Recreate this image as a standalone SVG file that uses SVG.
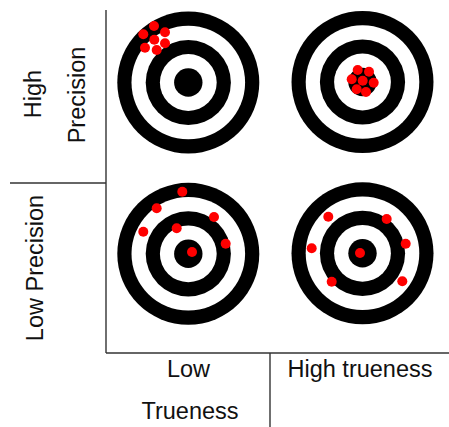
<svg xmlns="http://www.w3.org/2000/svg" xmlns:xlink="http://www.w3.org/1999/xlink" width="449" height="427" viewBox="0 0 449 427">
<style>
.lbl{font-family:"Liberation Sans",Arial,sans-serif;font-size:23.5px;fill:#111;text-anchor:middle}
.ax{stroke:#333;stroke-width:1.4;fill:none}
.k{fill:#000}
.w{fill:#fff}
.d{fill:#ff0000}
</style>
<defs>
<g id="tgt">
<circle class="k" r="71"/>
<circle class="w" r="56.8"/>
<circle class="k" r="42.6"/>
<circle class="w" r="28.4"/>
<circle class="k" r="14.2"/>
</g>
</defs>
<rect width="449" height="427" fill="#fff"/>
<g id="connectors">
<line class="ax" x1="106" y1="10" x2="106" y2="353"/>
<line class="ax" x1="10" y1="183" x2="106" y2="183"/>
<line class="ax" x1="106" y1="353" x2="449" y2="353"/>
<line class="ax" x1="270" y1="353" x2="270" y2="427"/>
</g>
<g id="target-low-trueness-high-precision">
<use xlink:href="#tgt" x="188.3" y="82.5"/>
<circle class="d" cx="154" cy="26" r="5"/>
<circle class="d" cx="143.3" cy="34.3" r="5"/>
<circle class="d" cx="165" cy="32.3" r="5"/>
<circle class="d" cx="154.3" cy="39.7" r="5"/>
<circle class="d" cx="165" cy="43.3" r="5"/>
<circle class="d" cx="145" cy="47.7" r="5"/>
<circle class="d" cx="156.7" cy="50" r="5"/>
</g>
<g id="target-high-trueness-high-precision">
<use xlink:href="#tgt" x="362.5" y="82"/>
<circle class="d" cx="357.7" cy="70" r="5"/>
<circle class="d" cx="369" cy="71.7" r="5"/>
<circle class="d" cx="351.7" cy="79.3" r="5"/>
<circle class="d" cx="362.7" cy="80.7" r="5"/>
<circle class="d" cx="373.7" cy="82.7" r="5"/>
<circle class="d" cx="356.7" cy="89.3" r="5"/>
<circle class="d" cx="366" cy="92" r="5"/>
</g>
<g id="target-low-trueness-low-precision">
<use xlink:href="#tgt" x="188.3" y="253.8"/>
<circle class="d" cx="182.3" cy="191.7" r="5"/>
<circle class="d" cx="156.7" cy="208.3" r="5"/>
<circle class="d" cx="214" cy="217" r="5"/>
<circle class="d" cx="143.3" cy="231.7" r="5"/>
<circle class="d" cx="176.7" cy="228.3" r="5"/>
<circle class="d" cx="225.7" cy="243.7" r="5"/>
<circle class="d" cx="192" cy="252" r="5"/>
</g>
<g id="target-high-trueness-low-precision">
<use xlink:href="#tgt" x="362.5" y="253.3"/>
<circle class="d" cx="328.3" cy="216.7" r="5"/>
<circle class="d" cx="386.7" cy="219" r="5"/>
<circle class="d" cx="311.7" cy="248.3" r="5"/>
<circle class="d" cx="405.7" cy="243.7" r="5"/>
<circle class="d" cx="360" cy="253" r="5"/>
<circle class="d" cx="331.7" cy="281.7" r="5"/>
<circle class="d" cx="402.3" cy="281.3" r="5"/>
</g>
<g id="label-high-precision">
<text class="lbl" x="41" y="94" transform="rotate(-90 41 94)">High</text>
<text class="lbl" x="85" y="95" transform="rotate(-90 85 95)">Precision</text>
</g>
<g id="label-low-precision">
<text class="lbl" x="43" y="268" transform="rotate(-90 43 268)">Low Precision</text>
</g>
<g id="label-low-trueness">
<text class="lbl" x="188.5" y="377">Low</text>
<text class="lbl" x="190" y="419">Trueness</text>
</g>
<g id="label-high-trueness">
<text class="lbl" x="360" y="377">High trueness</text>
</g>
</svg>
